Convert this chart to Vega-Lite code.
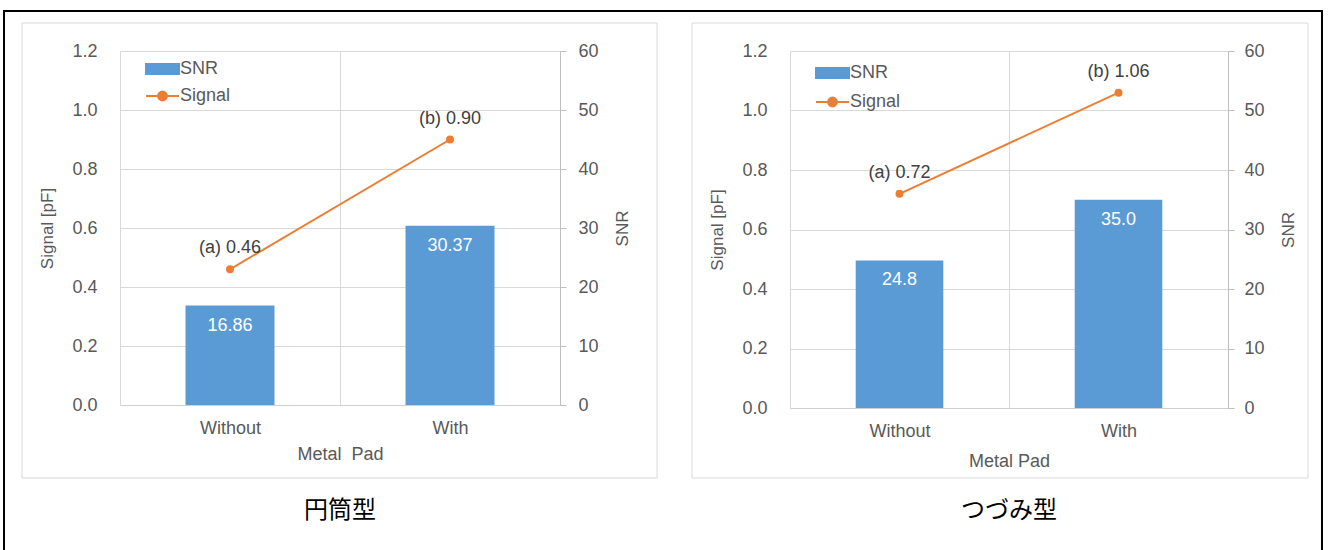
{
  "$schema": "https://vega.github.io/schema/vega-lite/v6.json",
  "background": "white",
  "padding": {"left": 3, "top": 9, "right": 0, "bottom": 0},
  "autosize": {"type": "pad"},
  "bounds": "flush",
  "spacing": 230,
  "datasets": {
    "one": [{}],
    "cyl": [
      {"pad": "Without", "snr": 16.86, "signal": 0.46, "snrLabel": "16.86", "sigLabel": "(a) 0.46"},
      {"pad": "With", "snr": 30.37, "signal": 0.90, "snrLabel": "30.37", "sigLabel": "(b) 0.90"}
    ],
    "tsu": [
      {"pad": "Without", "snr": 24.8, "signal": 0.72, "snrLabel": "24.8", "sigLabel": "(a) 0.72"},
      {"pad": "With", "snr": 35.0, "signal": 1.06, "snrLabel": "35.0", "sigLabel": "(b) 1.06"}
    ]
  },
  "resolve": {"scale": {"x": "independent", "y": "independent", "color": "independent"}, "legend": {"color": "independent"}},
  "hconcat": [
    {
      "width": 440,
      "height": 354,
      "title": {"text": "円筒型", "orient": "bottom", "frame": "group", "anchor": "middle", "fontSize": 24, "font": "Noto Sans CJK JP", "fontWeight": "normal", "color": "#000000", "offset": -55},
      "resolve": {"scale": {"x": "independent", "y": "independent"}},
      "layer": [
        {
          "data": {"name": "one"},
          "mark": {"type": "rect", "filled": false, "stroke": "#d9d9d9", "strokeWidth": 1},
          "encoding": {
            "x": {"datum": -0.2227, "type": "quantitative", "scale": {"domain": [0, 1]}, "axis": null},
            "x2": {"datum": 1.2205},
            "y": {"datum": -0.2062, "type": "quantitative", "scale": {"domain": [0, 1]}, "axis": null},
            "y2": {"datum": 1.0791}
          }
        },
        {
          "data": {"name": "one"},
          "mark": {"type": "rect", "filled": false, "stroke": "#000000", "strokeWidth": 2},
          "encoding": {
            "x": {"datum": -0.2636, "type": "quantitative", "scale": {"domain": [0, 1]}, "axis": null},
            "x2": {"datum": 2.7318},
            "y": {"datum": -0.4181, "type": "quantitative", "scale": {"domain": [0, 1]}, "axis": null},
            "y2": {"datum": 1.113}
          }
        },
        {
          "data": {"name": "cyl"},
          "encoding": {
            "x": {
              "field": "pad", "type": "nominal", "sort": ["Without", "With"],
              "scale": {"paddingInner": 0, "paddingOuter": 0},
              "axis": {"title": "Metal\u00a0 Pad", "labelAngle": 0, "labelFontSize": 18, "labelColor": "#595959", "labelPadding": 14, "ticks": false, "tickBand": "extent", "grid": true, "gridColor": "#d9d9d9", "domainColor": "#d0d0d0", "titleFontSize": 18, "titleColor": "#595959", "titleFontWeight": "normal", "titlePadding": 8}
            }
          },
          "resolve": {"scale": {"y": "independent"}},
          "layer": [
            {
              "encoding": {
                "y": {
                  "field": "snr", "type": "quantitative", "scale": {"domain": [0, 60]},
                  "axis": {"orient": "right", "values": [0, 10, 20, 30, 40, 50, 60], "grid": false, "domainColor": "#bfbfbf", "tickColor": "#bfbfbf", "tickSize": 6, "labelFontSize": 18, "labelColor": "#595959", "labelPadding": 12, "title": "SNR", "titleAngle": 270, "titleFontSize": 17, "titleColor": "#595959", "titleFontWeight": "normal", "titlePadding": 33}
                }
              },
              "layer": [
                {
                  "mark": {"type": "bar", "width": {"band": 0.4045}},
                  "encoding": {
                    "color": {
                      "datum": "SNR",
                      "scale": {"domain": ["SNR", "Signal"], "range": ["#5B9BD5", "#ED7D31"]},
                      "legend": {
                        "title": null, "orient": "none", "legendX": 25, "legendY": 0.5, "padding": 0,
                        "labelFontSize": 18, "labelColor": "#595959", "labelFont": "Liberation Sans", "labelOffset": 0,
                        "symbolSize": 1089, "rowPadding": -10,
                        "encode": {"symbols": {"update": {
                          "shape": {"signal": "datum.value === 'SNR' ? 'M-1,-0.3H1V0.3H-1Z' : 'M-1,0H1M0.27,0A0.27,0.27,0,1,1,-0.27,0A0.27,0.27,0,1,1,0.27,0Z'"},
                          "fill": {"signal": "datum.value === 'SNR' ? '#5B9BD5' : '#ED7D31'"},
                          "stroke": {"signal": "datum.value === 'SNR' ? 'transparent' : '#ED7D31'"},
                          "strokeWidth": {"value": 2},
                          "opacity": {"value": 1}
                        }}}
                      }
                    }
                  }
                },
                {
                  "mark": {"type": "text", "color": "#ffffff", "fontSize": 18, "dy": 20, "align": "center", "baseline": "middle"},
                  "encoding": {"text": {"field": "snrLabel"}}
                }
              ]
            },
            {
              "encoding": {
                "y": {
                  "field": "signal", "type": "quantitative", "scale": {"domain": [0, 1.2]},
                  "axis": {"orient": "left", "values": [0, 0.2, 0.4, 0.6, 0.8, 1, 1.2], "format": ".1f", "grid": true, "gridColor": "#d9d9d9", "domain": false, "ticks": false, "labelFontSize": 18, "labelColor": "#595959", "labelPadding": 23, "title": "Signal [pF]", "titleFontSize": 17, "titleColor": "#595959", "titleFontWeight": "normal", "titlePadding": 15}
                }
              },
              "layer": [
                {
                  "mark": {"type": "line", "strokeWidth": 2, "point": {"filled": true, "size": 64}},
                  "encoding": {"color": {"datum": "Signal"}}
                },
                {
                  "mark": {"type": "text", "color": "#404040", "fontSize": 18, "dy": -21, "align": "center", "baseline": "middle"},
                  "encoding": {"text": {"field": "sigLabel"}}
                }
              ]
            }
          ]
        }
      ]
    },
    {
      "width": 438,
      "height": 357,
      "title": {"text": "つづみ型", "orient": "bottom", "frame": "group", "anchor": "middle", "fontSize": 24, "font": "Noto Sans CJK JP", "fontWeight": "normal", "color": "#000000", "offset": 20},
      "resolve": {"scale": {"x": "independent", "y": "independent"}},
      "layer": [
        {
          "data": {"name": "one"},
          "mark": {"type": "rect", "filled": false, "stroke": "#d9d9d9", "strokeWidth": 1},
          "encoding": {
            "x": {"datum": -0.2237, "type": "quantitative", "scale": {"domain": [0, 1]}, "axis": null},
            "x2": {"datum": 1.1826},
            "y": {"datum": -0.1961, "type": "quantitative", "scale": {"domain": [0, 1]}, "axis": null},
            "y2": {"datum": 1.0784}
          }
        },
        {
          "data": {"name": "tsu"},
          "encoding": {
            "x": {
              "field": "pad", "type": "nominal", "sort": ["Without", "With"],
              "scale": {"paddingInner": 0, "paddingOuter": 0},
              "axis": {"title": "Metal Pad", "labelAngle": 0, "labelFontSize": 18, "labelColor": "#595959", "labelPadding": 14, "ticks": false, "tickBand": "extent", "grid": true, "gridColor": "#d9d9d9", "domainColor": "#d0d0d0", "titleFontSize": 18, "titleColor": "#595959", "titleFontWeight": "normal", "titlePadding": 12}
            }
          },
          "resolve": {"scale": {"y": "independent"}},
          "layer": [
            {
              "encoding": {
                "y": {
                  "field": "snr", "type": "quantitative", "scale": {"domain": [0, 60]},
                  "axis": {"orient": "right", "values": [0, 10, 20, 30, 40, 50, 60], "grid": false, "domainColor": "#bfbfbf", "tickColor": "#bfbfbf", "tickSize": 6, "labelFontSize": 18, "labelColor": "#595959", "labelPadding": 10, "title": "SNR", "titleAngle": 270, "titleFontSize": 17, "titleColor": "#595959", "titleFontWeight": "normal", "titlePadding": 33}
                }
              },
              "layer": [
                {
                  "mark": {"type": "bar", "width": {"band": 0.4}},
                  "encoding": {
                    "color": {
                      "datum": "SNR",
                      "scale": {"domain": ["SNR", "Signal"], "range": ["#5B9BD5", "#ED7D31"]},
                      "legend": {
                        "title": null, "orient": "none", "legendX": 25, "legendY": 4.5, "padding": 0,
                        "labelFontSize": 18, "labelColor": "#595959", "labelFont": "Liberation Sans", "labelOffset": 0,
                        "symbolSize": 1089, "rowPadding": 2,
                        "encode": {"symbols": {"update": {
                          "shape": {"signal": "datum.value === 'SNR' ? 'M-1,-0.3H1V0.3H-1Z' : 'M-1,0H1M0.27,0A0.27,0.27,0,1,1,-0.27,0A0.27,0.27,0,1,1,0.27,0Z'"},
                          "fill": {"signal": "datum.value === 'SNR' ? '#5B9BD5' : '#ED7D31'"},
                          "stroke": {"signal": "datum.value === 'SNR' ? 'transparent' : '#ED7D31'"},
                          "strokeWidth": {"value": 2},
                          "opacity": {"value": 1}
                        }}}
                      }
                    }
                  }
                },
                {
                  "mark": {"type": "text", "color": "#ffffff", "fontSize": 18, "dy": 20, "align": "center", "baseline": "middle"},
                  "encoding": {"text": {"field": "snrLabel"}}
                }
              ]
            },
            {
              "encoding": {
                "y": {
                  "field": "signal", "type": "quantitative", "scale": {"domain": [0, 1.2]},
                  "axis": {"orient": "left", "values": [0, 0.2, 0.4, 0.6, 0.8, 1, 1.2], "format": ".1f", "grid": true, "gridColor": "#d9d9d9", "domain": false, "ticks": false, "labelFontSize": 18, "labelColor": "#595959", "labelPadding": 23, "title": "Signal [pF]", "titleFontSize": 17, "titleColor": "#595959", "titleFontWeight": "normal", "titlePadding": 15}
                }
              },
              "layer": [
                {
                  "mark": {"type": "line", "strokeWidth": 2, "point": {"filled": true, "size": 64}},
                  "encoding": {"color": {"datum": "Signal"}}
                },
                {
                  "mark": {"type": "text", "color": "#404040", "fontSize": 18, "dy": -21, "align": "center", "baseline": "middle"},
                  "encoding": {"text": {"field": "sigLabel"}}
                }
              ]
            }
          ]
        }
      ]
    }
  ],
  "config": {
    "font": "Liberation Sans",
    "view": {"stroke": null},
    "axis": {"labelFont": "Liberation Sans", "titleFont": "Liberation Sans"},
    "text": {"font": "Liberation Sans"}
  }
}
